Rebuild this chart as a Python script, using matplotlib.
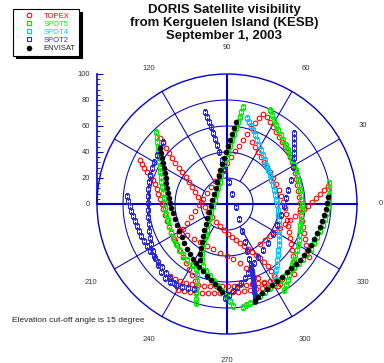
import matplotlib
matplotlib.use("Agg")
import matplotlib.pyplot as plt
import numpy as np
from matplotlib.lines import Line2D

plt.rcParams["font.family"] = ["Liberation Sans", "DejaVu Sans"]

# Satellite passes, as (east, north) in zenith-angle degrees
topex_a = [(-40.0, -28.5), (-36.9, -23.8), (-33.8, -19.2), (-30.8, -14.6), (-27.7, -10.0), (-24.6, -5.4),
           (-21.5, -0.8), (-18.5, 3.8), (-15.4, 8.5), (-12.3, 13.1), (-9.2, 17.7), (-6.2, 22.3), (-3.1, 26.9),
           (0.0, 31.5), (3.1, 36.2), (6.2, 40.8), (9.2, 44.6), (12.3, 49.2), (15.4, 53.8), (18.5, 58.5),
           (21.5, 62.3), (24.6, 66.2), (27.7, 69.2), (30.8, 66.9), (33.1, 63.1), (35.4, 59.2), (37.7, 55.4),
           (40.0, 51.5), (42.3, 47.7), (44.6, 43.8), (46.9, 40.0), (48.5, 36.2), (50.0, 32.3), (51.5, 28.5),
           (52.3, 23.8), (53.1, 19.2), (53.8, 14.6), (54.6, 10.0), (55.4, 5.4), (56.2, 0.8), (56.2, -3.8),
           (56.9, -8.5), (57.7, -13.1), (58.5, -17.7), (59.2, -22.3), (60.0, -26.9), (60.8, -31.5),
           (61.5, -36.2), (63.1, -40.8)]
topex_b = [(-51.5, 50.8), (-49.2, 46.9), (-46.9, 43.1), (-44.6, 39.2), (-42.3, 35.4), (-40.0, 31.5),
           (-36.9, 27.7), (-34.6, 24.6), (-31.5, 20.8), (-29.2, 16.9), (-26.9, 13.1), (-24.6, 9.2),
           (-22.3, 5.4), (-20.0, 1.5), (-16.9, -2.3), (-14.6, -6.2), (-11.5, -10.0), (-8.5, -13.8),
           (-5.4, -16.9), (-2.3, -20.0), (0.8, -23.1), (3.8, -25.4), (6.9, -27.7), (10.0, -30.0),
           (13.1, -32.3), (16.2, -34.6), (19.2, -36.9), (22.3, -39.2), (25.4, -41.5), (28.5, -44.6),
           (31.5, -47.7), (33.8, -51.5), (36.2, -55.4), (37.7, -59.2), (39.2, -63.1)]
topex_c = [(-66.9, 33.8), (-65.4, 30.8), (-63.8, 27.7), (-61.5, 24.6), (-59.2, 21.5), (-56.9, 18.5),
           (-55.4, 15.4), (-53.8, 11.5), (-53.1, 7.7), (-51.5, 3.8), (-50.0, 0.0), (-49.2, -3.8),
           (-47.7, -8.5), (-46.2, -13.1), (-44.6, -17.7), (-43.1, -22.3), (-40.8, -26.9), (-38.5, -31.5),
           (-36.2, -36.2), (-33.8, -40.8), (-31.5, -45.4), (-29.2, -50.0), (-26.9, -54.6), (-24.6, -59.2)]
topex_d = [(77.7, 13.8), (74.6, 10.8), (71.5, 7.7), (68.5, 4.6), (65.4, 1.5), (62.3, -1.5), (59.2, -3.8),
           (56.2, -6.2), (52.3, -9.2), (48.5, -12.3), (44.6, -15.4), (40.8, -18.5), (36.9, -21.5),
           (33.1, -24.6), (29.2, -27.7), (25.4, -30.8)]
topex_e = [(19.2, 47.7), (21.5, 43.8), (23.8, 40.0), (26.2, 36.2), (28.5, 32.3), (30.8, 28.5), (33.1, 24.6),
           (35.4, 20.0), (37.7, 15.4), (40.0, 10.8), (41.5, 6.2), (43.1, 1.5), (44.6, -3.1), (45.4, -7.7),
           (46.2, -12.3), (46.9, -16.9), (47.7, -21.5), (48.5, -26.2), (49.2, -30.8), (50.0, -35.4),
           (50.8, -40.0), (50.8, -44.6), (51.5, -49.2), (51.5, -53.8)]
topex_f = [(-43.8, -55.4), (-40.0, -57.7), (-36.2, -59.2), (-31.5, -60.8), (-26.9, -61.5), (-22.3, -62.3),
           (-17.7, -63.1), (-13.1, -63.1), (-8.5, -63.1), (-3.8, -63.1), (0.8, -63.1), (5.4, -63.1),
           (10.0, -62.3), (14.6, -62.3), (19.2, -61.5), (23.8, -60.8), (28.5, -60.0), (33.1, -59.2),
           (37.7, -58.5), (42.3, -57.7)]
topex_g = [(-37.7, -66.2), (-33.1, -66.9), (-28.5, -67.7), (-23.8, -67.7), (-19.2, -68.5), (-14.6, -68.5),
           (-10.0, -68.5), (-5.4, -68.5), (-0.8, -68.5), (3.8, -67.7), (8.5, -67.7), (13.1, -66.9),
           (17.7, -66.2), (22.3, -65.4), (26.9, -64.6), (31.5, -63.8), (36.2, -62.3), (40.8, -61.5)]
topex_h = [(-36.2, -20.0), (-30.8, -23.8), (-25.4, -26.9), (-20.8, -29.2), (-15.4, -32.3), (-10.8, -34.6),
           (-5.4, -37.7), (0.0, -40.0), (4.6, -42.3), (10.0, -45.4), (14.6, -49.2), (19.2, -53.1),
           (23.8, -56.9), (28.5, -60.8), (33.1, -64.6)]

spot5_a = [(-54.6, 55.4), (-53.8, 51.5), (-53.8, 47.7), (-53.1, 43.8), (-53.1, 40.0), (-52.3, 36.2),
           (-52.3, 32.3), (-51.5, 28.5), (-51.5, 24.6), (-50.8, 20.8), (-50.8, 16.9), (-50.0, 13.1),
           (-49.2, 8.5), (-48.5, 4.6), (-47.7, 0.8), (-47.7, -3.1), (-46.9, -7.7), (-45.4, -12.3),
           (-44.6, -16.9), (-43.1, -21.5), (-41.5, -26.2), (-39.2, -30.8), (-36.9, -35.4), (-33.8, -39.2),
           (-30.8, -43.1), (-26.9, -46.9), (-23.8, -50.0), (-23.1, -54.6), (-23.1, -59.2), (-23.1, -63.8),
           (-23.8, -68.5), (-23.8, -73.1), (-23.8, -76.2)]
spot5_b = [(12.3, 74.6), (10.8, 70.8), (10.0, 66.9), (8.5, 63.1), (6.9, 58.5), (5.4, 53.8), (3.8, 49.2),
           (2.3, 44.6), (0.8, 40.0), (0.0, 35.4), (-1.5, 30.8), (-3.1, 26.2), (-4.6, 21.5), (-5.4, 16.9),
           (-6.9, 12.3), (-8.5, 7.7), (-9.2, 3.1), (-10.8, -1.5), (-12.3, -6.2), (-13.1, -10.8),
           (-14.6, -15.4), (-15.4, -20.0), (-16.2, -24.6), (-17.7, -29.2), (-18.5, -33.8), (-19.2, -38.5),
           (-19.2, -43.1), (-18.5, -47.7), (-16.2, -51.5), (-13.1, -55.4), (-10.0, -59.2), (-6.9, -63.1),
           (-3.8, -66.9), (-0.8, -70.8), (2.3, -74.6), (4.6, -78.5)]
spot5_c = [(78.5, 16.2), (78.5, 11.5), (78.5, 6.9), (78.5, 2.3), (77.7, -2.3), (76.9, -6.9), (75.4, -11.5),
           (73.8, -16.2), (71.5, -20.8), (69.2, -25.4), (66.9, -30.0), (64.6, -34.6), (61.5, -38.5),
           (58.5, -42.3), (55.4, -45.4), (51.5, -48.5), (48.5, -51.5), (44.6, -55.4), (40.8, -58.5),
           (36.9, -61.5), (33.1, -64.6), (29.2, -67.7), (25.4, -70.8), (21.5, -73.8), (17.7, -76.2),
           (14.6, -77.7), (12.3, -79.2)]
spot5_d = [(33.1, 72.3), (34.6, 68.5), (36.2, 64.6), (37.7, 60.8), (39.2, 56.9), (41.5, 53.1), (43.1, 49.2),
           (45.4, 45.4), (46.9, 41.5), (48.5, 37.7), (50.0, 33.8), (51.5, 30.0), (53.1, 26.2), (53.8, 22.3),
           (54.6, 18.5), (55.4, 14.6), (56.2, 10.8), (56.9, 6.9), (56.9, 3.1), (57.7, -0.8), (57.7, -4.6),
           (56.9, -8.5), (56.9, -12.3), (56.2, -16.2), (56.2, -20.0), (55.4, -23.8), (55.4, -27.7),
           (54.6, -31.5), (53.8, -35.4), (52.3, -39.2), (51.5, -43.1), (50.0, -46.9), (49.2, -50.8),
           (47.7, -54.6), (46.9, -58.5), (45.4, -62.3), (43.8, -66.2)]

spot4_a = [(15.4, 66.2), (16.9, 63.1), (18.5, 60.0), (20.0, 56.9), (21.5, 53.1), (23.1, 49.2), (24.6, 45.4),
           (26.2, 41.5), (27.7, 37.7), (29.2, 33.8), (30.0, 30.0), (31.5, 26.2), (33.1, 22.3), (33.8, 18.5),
           (35.4, 14.6), (36.2, 10.8), (36.9, 6.9), (37.7, 3.1), (38.5, -0.8), (39.2, -4.6), (39.2, -8.5),
           (40.0, -12.3), (40.0, -16.2), (40.0, -20.0), (40.0, -23.8), (40.0, -27.7), (40.0, -31.5),
           (39.2, -35.4), (39.2, -39.2), (38.5, -43.1), (38.5, -46.9), (37.7, -50.8), (36.9, -54.6),
           (36.9, -58.5)]

spot2_a = [(-16.9, 70.8), (-15.4, 66.9), (-13.8, 63.1), (-12.3, 59.2), (-10.8, 54.6), (-9.2, 50.0),
           (-7.7, 45.4), (-6.2, 40.0), (-3.8, 33.8), (-1.5, 26.2), (1.5, 16.9), (3.8, 7.7), (6.9, -2.3),
           (9.2, -11.5), (11.5, -20.8), (13.8, -29.2), (15.4, -36.2), (16.9, -42.3), (18.5, -46.9),
           (18.5, -49.2), (19.2, -51.5), (19.2, -53.8), (20.0, -56.2), (20.0, -58.5), (20.0, -60.8),
           (20.8, -63.1), (20.8, -65.4), (20.8, -67.7), (21.5, -70.0), (21.5, -72.3), (21.5, -74.6)]
spot2_b = [(51.5, 54.6), (51.5, 50.8), (51.5, 46.9), (51.5, 43.1), (51.5, 39.2), (51.5, 35.4), (50.8, 28.5),
           (49.2, 18.5), (46.9, 10.8), (45.4, 4.6), (43.8, -1.5), (41.5, -8.5), (38.5, -16.2), (35.4, -23.1),
           (31.5, -30.0), (27.7, -35.4), (23.8, -40.8), (20.8, -45.4), (18.5, -49.2), (16.2, -53.1),
           (13.8, -56.9), (10.8, -60.8), (7.7, -63.8), (4.6, -66.9), (1.5, -70.0), (-1.5, -72.3)]
spot2_c = [(-49.2, 47.7), (-51.5, 43.1), (-53.8, 37.7), (-56.2, 32.3), (-57.7, 27.7), (-59.2, 22.3),
           (-60.0, 16.9), (-60.8, 11.5), (-60.8, 6.2), (-60.8, 0.8), (-60.8, -4.6), (-60.8, -10.0),
           (-60.0, -15.4), (-60.0, -20.8), (-59.2, -26.2), (-58.5, -30.8), (-56.9, -36.2), (-55.4, -41.5),
           (-53.1, -46.9), (-50.8, -52.3), (-47.7, -56.9), (-43.8, -60.0), (-39.2, -62.3), (-34.6, -63.8),
           (-30.0, -64.6), (-25.4, -65.4)]
spot2_d = [(-76.9, 6.2), (-76.2, 2.3), (-74.6, -1.5), (-73.8, -5.4), (-72.3, -9.2), (-70.8, -13.1),
           (-69.2, -16.9), (-67.7, -20.8), (-66.2, -24.6), (-63.8, -28.5), (-61.5, -32.3), (-59.2, -36.2),
           (-56.2, -40.0), (-53.1, -44.6), (-50.0, -48.5), (-46.9, -53.1), (-43.8, -56.9), (-40.8, -60.8)]

envisat_a = [(-51.5, 43.1), (-50.8, 39.2), (-50.0, 35.4), (-49.2, 31.5), (-48.5, 27.7), (-47.7, 23.8),
             (-46.9, 20.0), (-46.9, 16.2), (-46.2, 12.3), (-45.4, 8.5), (-44.6, 4.6), (-43.8, 0.8),
             (-43.1, -3.1), (-41.5, -6.9), (-40.0, -11.5), (-38.5, -16.2), (-36.9, -20.8), (-34.6, -25.4),
             (-33.1, -30.0), (-30.8, -34.6), (-28.5, -38.5), (-26.2, -42.3), (-23.8, -45.4), (-21.5, -48.5),
             (-18.5, -51.5), (-15.4, -55.4), (-12.3, -58.5), (-9.2, -61.5), (-6.2, -64.6), (-3.8, -67.7)]
envisat_b = [(6.9, 63.1), (5.4, 58.5), (3.8, 53.8), (2.3, 49.2), (0.8, 44.6), (-0.8, 40.0), (-2.3, 35.4),
             (-3.8, 30.8), (-5.4, 26.2), (-6.2, 21.5), (-7.7, 16.9), (-8.5, 12.3), (-10.0, 7.7), (-11.5, 3.1),
             (-12.3, -1.5), (-13.8, -6.2), (-15.4, -10.8), (-16.2, -15.4), (-17.7, -20.0), (-18.5, -24.6),
             (-19.2, -29.2), (-20.0, -33.8), (-20.8, -38.5), (-20.8, -43.1)]
envisat_c = [(77.7, 5.4), (76.9, 0.8), (76.2, -3.8), (74.6, -8.5), (73.1, -13.1), (71.5, -17.7), (69.2, -22.3),
             (66.9, -26.9), (64.6, -31.5), (62.3, -35.4), (59.2, -39.2), (56.2, -43.1), (53.1, -46.2),
             (49.2, -49.2), (46.2, -52.3), (42.3, -56.2), (38.5, -59.2), (34.6, -62.3), (30.8, -65.4),
             (26.9, -68.5), (23.8, -71.5), (21.5, -74.6)]

satellites = ["TOPEX", "SPOT5", "SPOT4", "SPOT2", "ENVISAT"]
passes = {
    "TOPEX": [topex_a, topex_b, topex_c, topex_d, topex_e, topex_f, topex_g, topex_h],
    "SPOT5": [spot5_a, spot5_b, spot5_c, spot5_d],
    "SPOT4": [spot4_a],
    "SPOT2": [spot2_a, spot2_b, spot2_c, spot2_d],
    "ENVISAT": [envisat_a, envisat_b, envisat_c],
}
angle_labels = [0, 30, 60, 90, 120, 210, 240, 270, 300, 330]
zenith_ticks = [0, 20, 40, 60, 80, 100]

styles = {
    "TOPEX": dict(marker="o", color="#ff0000", mfc="none", ms=3.3, mew=0.8),
    "SPOT5": dict(marker="s", color="#00ee00", mfc="none", ms=3.2, mew=0.9),
    "SPOT4": dict(marker="s", color="#00c8ff", mfc="none", ms=3.2, mew=0.9),
    "SPOT2": dict(marker="s", color="#2a2ad2", mfc="none", ms=3.2, mew=0.8),
    "ENVISAT": dict(marker="o", color="black", mfc="black", ms=3.7, mew=0.3),
}
text_colors = ["#ff0000", "#00ee00", "#00c8ff", "#2a2ad2", "#222222"]
grid_blue = "#0000cc"

fig = plt.figure(figsize=(3.84, 3.63), dpi=100)
ax = fig.add_axes([97 / 384, 29 / 363, 260 / 384, 260 / 363], projection="polar")
ax.set_ylim(0, 100)
ax.set_xticks([])
ax.set_yticks([])
ax.grid(False)
ax.spines["polar"].set_color(grid_blue)
ax.spines["polar"].set_linewidth(1.0)

# grid: rings every 20, spokes every 30 starting at the inner ring
circle = np.linspace(0, 2 * np.pi, 361)
for r in [20, 40, 60, 80]:
    ax.plot(circle, np.full_like(circle, r), color=grid_blue, lw=0.75, zorder=1)
for a in range(0, 360, 30):
    t = np.deg2rad(a)
    if a % 90 == 0:
        ax.plot([t, t], [0, 100], color=grid_blue, lw=1.5, zorder=1)
    else:
        ax.plot([t, t], [20, 100], color=grid_blue, lw=0.75, zorder=1)

for a in angle_labels:
    # the 0 label sits right at the figure edge, pull it in a touch
    rad = 118.0 if a == 0 else 120.5
    ax.text(np.deg2rad(a), rad, str(a), ha="center", va="center", fontsize=5.5,
            color="#333333", clip_on=False)

for i, name in enumerate(satellites):
    for track in passes[name]:
        east, north = np.array(track).T
        ax.plot(np.arctan2(north, east), np.hypot(east, north), ls="none", zorder=3 + i, **styles[name])

# zenith scale on the left
lax = fig.add_axes([97 / 384, 159 / 363, 1 / 384, 130 / 363])
lax.set_ylim(0, 100)
lax.set_xticks([])
lax.set_yticks(zenith_ticks)
lax.set_yticks(np.arange(0, 101, 4), minor=True)
for side in ["top", "right", "bottom"]:
    lax.spines[side].set_visible(False)
lax.spines["left"].set_color(grid_blue)
lax.spines["left"].set_linewidth(1.2)
lax.patch.set_visible(False)
lax.tick_params(axis="y", which="major", direction="in", length=4, width=0.8, color=grid_blue,
                labelsize=5.5, labelcolor="#333333", pad=5)
lax.tick_params(axis="y", which="minor", direction="in", length=2, width=0.6, color=grid_blue)

handles = [Line2D([], [], ls="none", **styles[name]) for name in satellites]
leg = fig.legend(handles, satellites, loc="upper left", bbox_to_anchor=(13 / 384, 1 - 9 / 363),
                 bbox_transform=fig.transFigure, fontsize=5.5, frameon=True, fancybox=False,
                 edgecolor="black", borderpad=0.45, labelspacing=0.1, handlelength=3.4,
                 handletextpad=0.15, borderaxespad=0,
                 shadow={"ox": 2, "oy": -2, "color": "black", "alpha": 1})
leg.get_frame().set_linewidth(0.8)
for txt, c in zip(leg.get_texts(), text_colors):
    txt.set_color(c)

title_lines = ["DORIS Satellite visibility", "from Kerguelen Island (KESB)", "September 1, 2003"]
for k, line in enumerate(title_lines):
    fig.text(224 / 384, 1 - (9.5 + 13.5 * k) / 363, line, ha="center", va="center",
             fontsize=9.5, fontweight="bold", color="#111111")

fig.text(12 / 384, 1 - 321 / 363, "Elevation cut-off angle is 15 degree", ha="left", va="center",
         fontsize=6, color="#222222")

fig.savefig("out.png", dpi=100)
plt.close(fig)
